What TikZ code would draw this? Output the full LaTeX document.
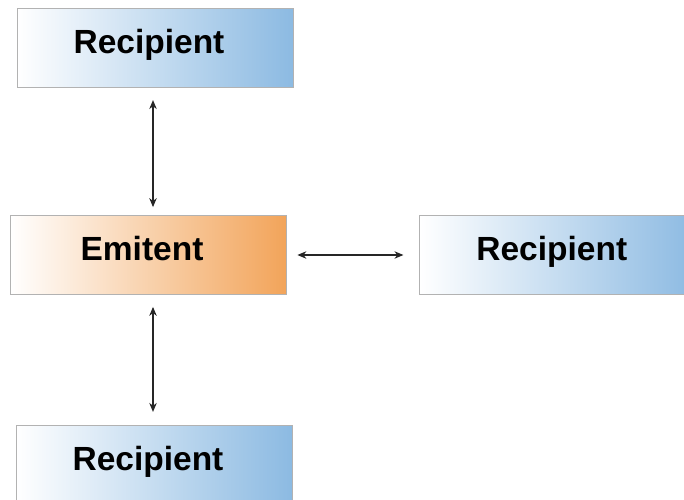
\documentclass[tikz,border=0pt]{standalone}
\usepackage{fontspec}
\setmainfont{Liberation Sans}
\usetikzlibrary{arrows.meta,positioning}

\definecolor{boxblue}{RGB}{140,186,226}
\definecolor{boxorange}{RGB}{242,164,90}
\definecolor{boxline}{RGB}{178,178,178}

\begin{document}
\begin{tikzpicture}[
  x=1pt, y=1pt,
  node distance=127pt and 133pt,
  party/.style={draw=boxline, line width=0.8pt, minimum height=79pt, minimum width=276pt,
                inner sep=0pt, text height=24pt, text depth=13pt,
                font=\fontsize{33.5}{38}\selectfont\bfseries,
                execute at end node=\hspace*{12pt}},
  rec/.style={party, left color=white, right color=boxblue},
  emi/.style={party, left color=white, right color=boxorange},
  arr/.style={{Stealth[length=9pt,width=7.5pt]}-{Stealth[length=9pt,width=7.5pt]}, line width=1.1pt, black!85}
]
\useasboundingbox (0,0) rectangle (684,499);
\clip (0,0) rectangle (684,499);
\node[emi] (em) at (148,244) {Emitent};
\node[rec, above=127pt of em, xshift=7pt] (rt) {Recipient};
\node[rec, right=133pt of em] (rr) {Recipient};
\node[rec, below=130pt of em, xshift=6pt] (rb) {Recipient};
\draw[arr, shorten <=12pt, shorten >=8pt] ([xshift=-2pt]rt.south) -- ([xshift=5pt]em.north);
\draw[arr, shorten <=11pt, shorten >=16pt] (em.east) -- (rr.west);
\draw[arr, shorten <=12pt, shorten >=13pt] ([xshift=5pt]em.south) -- ([xshift=-1pt]rb.north);
\end{tikzpicture}
\end{document}
